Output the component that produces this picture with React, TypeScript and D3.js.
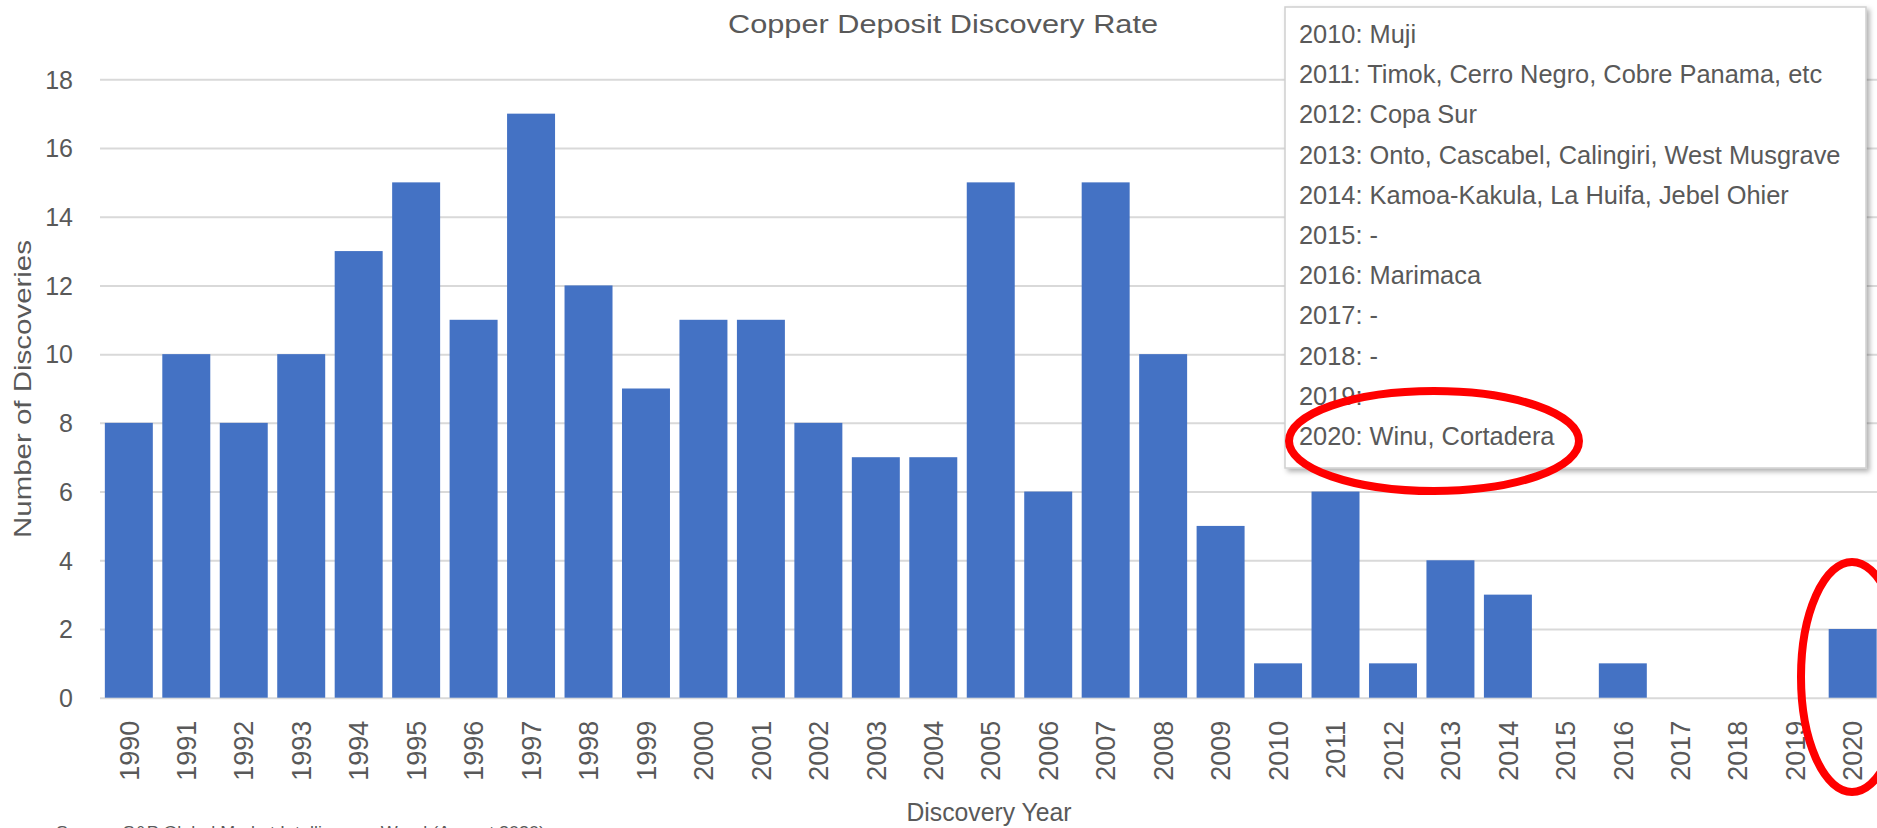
import { useEffect, useRef } from "react";
import * as d3 from "d3";

const years = [
  "1990", "1991", "1992", "1993", "1994", "1995", "1996", "1997", "1998", "1999",
  "2000", "2001", "2002", "2003", "2004", "2005", "2006", "2007", "2008", "2009",
  "2010", "2011", "2012", "2013", "2014", "2015", "2016", "2017", "2018", "2019", "2020",
];
const discoveries = [
  8, 10, 8, 10, 13, 15, 11, 17, 12, 9,
  11, 11, 8, 7, 7, 15, 6, 15, 10, 5,
  1, 6, 1, 4, 3, 0, 1, 0, 0, 0, 2,
];
const yTicks = [0, 2, 4, 6, 8, 10, 12, 14, 16, 18];
const noteLines = [
  "2010: Muji",
  "2011: Timok, Cerro Negro, Cobre Panama, etc",
  "2012: Copa Sur",
  "2013: Onto, Cascabel, Calingiri, West Musgrave",
  "2014: Kamoa-Kakula, La Huifa, Jebel Ohier",
  "2015: -",
  "2016: Marimaca",
  "2017: -",
  "2018: -",
  "2019:",
  "2020: Winu, Cortadera",
];

const W = 1877;
const H = 828;
const sans = "'Liberation Sans', Arial, sans-serif";
const grey = "#595959";

export default function App() {
  const ref = useRef<SVGSVGElement>(null);

  useEffect(() => {
    const svg = d3.select(ref.current);
    svg.selectAll("*").remove();

    const data = years.map((y, i) => ({ year: y, value: discoveries[i] }));

    const x = d3
      .scaleBand()
      .domain(years)
      .range([100.1, 1881.4])
      .paddingInner(0.165)
      .paddingOuter(0.0825);

    const y = d3.scaleLinear().domain([0, 18]).range([697.7, 79.3]);

    svg.append("rect").attr("width", W).attr("height", H).attr("fill", "white");

    // drop shadow for the note box
    const defs = svg.append("defs");
    const f = defs
      .append("filter")
      .attr("id", "shadow")
      .attr("x", "-5%")
      .attr("y", "-5%")
      .attr("width", "115%")
      .attr("height", "115%");
    f.append("feDropShadow")
      .attr("dx", 3)
      .attr("dy", 3)
      .attr("stdDeviation", 2.5)
      .attr("flood-color", "#000")
      .attr("flood-opacity", 0.3);

    // y grid + labels
    svg
      .append("g")
      .attr("transform", `translate(100,0)`)
      .call(
        d3
          .axisRight(y)
          .tickValues(yTicks)
          .tickSize(W - 100)
          .tickFormat((d) => String(d))
      )
      .call((g) => g.select(".domain").remove())
      .call((g) =>
        g.selectAll(".tick line").attr("stroke", "#d9d9d9").attr("stroke-width", 2)
      )
      .call((g) =>
        g
          .selectAll(".tick text")
          .attr("x", -27)
          .attr("dy", "0.35em")
          .attr("text-anchor", "end")
          .attr("fill", grey)
          .attr("font-family", sans)
          .attr("font-size", 25)
      );

    // bars
    svg
      .append("g")
      .selectAll("rect")
      .data(data)
      .join("rect")
      .attr("x", (d) => x(d.year)!)
      .attr("y", (d) => y(d.value))
      .attr("width", x.bandwidth())
      .attr("height", (d) => y(0) - y(d.value))
      .attr("fill", "#4472C4");

    // x labels
    svg
      .append("g")
      .attr("transform", `translate(0,${y(0)})`)
      .call(d3.axisBottom(x).tickSize(0).tickSizeOuter(0))
      .call((g) => g.select(".domain").remove())
      .call((g) =>
        g
          .selectAll(".tick text")
          .attr("transform", "rotate(-90)")
          .attr("x", -23)
          .attr("y", 0)
          .attr("dy", "0.36em")
          .attr("text-anchor", "end")
          .attr("fill", grey)
          .attr("font-family", sans)
          .attr("font-size", 27)
      );

    // titles
    svg
      .append("text")
      .attr("x", 943)
      .attr("y", 33)
      .attr("text-anchor", "middle")
      .attr("fill", grey)
      .attr("font-family", sans)
      .attr("font-size", 26)
      .attr("textLength", 430)
      .attr("lengthAdjust", "spacingAndGlyphs")
      .text("Copper Deposit Discovery Rate");

    svg
      .append("text")
      .attr("transform", "translate(31,389) rotate(-90)")
      .attr("text-anchor", "middle")
      .attr("fill", grey)
      .attr("font-family", sans)
      .attr("font-size", 24)
      .attr("textLength", 298)
      .attr("lengthAdjust", "spacingAndGlyphs")
      .text("Number of Discoveries");

    svg
      .append("text")
      .attr("x", 989)
      .attr("y", 821)
      .attr("text-anchor", "middle")
      .attr("fill", grey)
      .attr("font-family", sans)
      .attr("font-size", 25)
      .attr("textLength", 165)
      .attr("lengthAdjust", "spacingAndGlyphs")
      .text("Discovery Year");

    svg
      .append("text")
      .attr("x", 56)
      .attr("y", 838)
      .attr("fill", grey)
      .attr("font-family", sans)
      .attr("font-size", 16)
      .attr("textLength", 489)
      .attr("lengthAdjust", "spacingAndGlyphs")
      .text("Source: S&P Global Market Intelligence, Wood (August 2020)");

    // note box
    const box = svg.append("g");
    box
      .append("rect")
      .attr("x", 1285)
      .attr("y", 7)
      .attr("width", 581)
      .attr("height", 461)
      .attr("fill", "white")
      .attr("stroke", "#d0d0d0")
      .attr("stroke-width", 1.5)
      .attr("filter", "url(#shadow)");
    box
      .selectAll("text")
      .data(noteLines)
      .join("text")
      .attr("x", 1299)
      .attr("y", (_, i) => 43 + i * 40.2)
      .attr("fill", grey)
      .attr("font-family", sans)
      .attr("font-size", 25.4)
      .text((d) => d);

    // red highlight ellipses
    svg
      .append("ellipse")
      .attr("cx", 1434)
      .attr("cy", 441)
      .attr("rx", 145)
      .attr("ry", 50)
      .attr("fill", "none")
      .attr("stroke", "#ff0000")
      .attr("stroke-width", 8);
    svg
      .append("ellipse")
      .attr("cx", 1852)
      .attr("cy", 677)
      .attr("rx", 51)
      .attr("ry", 115)
      .attr("fill", "none")
      .attr("stroke", "#ff0000")
      .attr("stroke-width", 8);
  }, []);

  return (
    <svg
      ref={ref}
      width={W}
      height={H}
      style={{ position: "absolute", left: 0, top: 0, display: "block" }}
    />
  );
}
